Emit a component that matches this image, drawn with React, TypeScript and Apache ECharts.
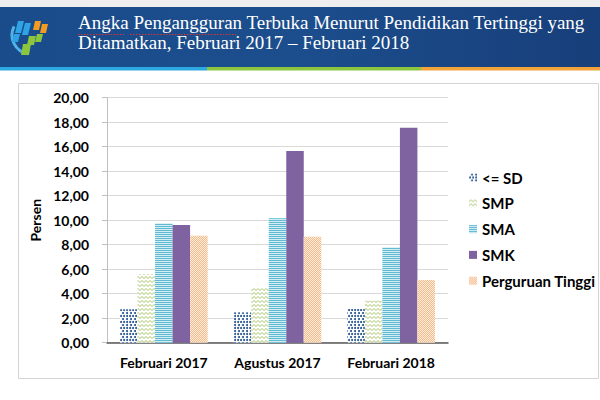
import React, { useEffect, useRef } from "react";
import * as echarts from "echarts";

const categories = ["Februari 2017", "Agustus 2017", "Februari 2018"];
const seriesNames = ["<= SD", "SMP", "SMA", "SMK", "Perguruan Tinggi"];
const sdValues = [2.73, 2.48, 2.75];
const smpValues = [5.61, 4.44, 3.43];
const smaValues = [9.75, 10.15, 7.79];
const smkValues = [9.61, 15.65, 17.55];
const ptValues = [8.73, 8.65, 5.12];
const titleLines = [
  "Angka Pengangguran Terbuka Menurut Pendidikan Tertinggi yang",
  "Ditamatkan, Februari 2017 \u2013 Februari 2018",
];

const FONT = "Lato, 'Open Sans', sans-serif";

export default function App() {
  const ref = useRef<HTMLDivElement>(null);
  useEffect(() => {
    if (!ref.current) return;
    const chart = echarts.init(ref.current, null, { renderer: "svg" });
    const values = [sdValues, smpValues, smaValues, smkValues, ptValues];
    const styles: any[] = [
      {
        color: "#ffffff",
        decal: {
          symbol: "circle",
          symbolSize: 1,
          color: "#1f4e8c",
          dashArrayX: [[2, 1], [0, 1.5, 2, 0]],
          dashArrayY: [2, 0.5],
        },
      },
      {
        color: "#ffffff",
        decal: {
          symbol: "path://M0,2 L2,0 L4,2 L4,3 L2,1 L0,3Z",
          symbolSize: 1,
          color: "#a9c46a",
          dashArrayX: [4, 0],
          dashArrayY: [3, 0.5],
        },
      },
      {
        color: "#d3edf4",
        decal: {
          symbol: "rect",
          symbolSize: 1,
          color: "#62bad2",
          dashArrayX: [1, 0],
          dashArrayY: [1, 1],
        },
      },
      { color: "#7f63a1" },
      {
        color: "#fdeede",
        decal: {
          symbol: "rect",
          symbolSize: 1,
          color: "#f6b98a",
          dashArrayX: [[1, 1], [0, 1, 1, 0]],
          dashArrayY: [1, 0],
        },
      },
    ];
    const series = seriesNames.map((name, i) => ({
      name,
      type: "bar",
      data: values[i],
      barGap: "0%",
      barCategoryGap: "23%",
      itemStyle: styles[i],
      emphasis: { disabled: true },
    }));

    chart.setOption({
      animation: false,
      backgroundColor: "#ffffff",
      graphic: [
        { type: "rect", z: -10, shape: { x: 0, y: 0, width: 600, height: 8 }, style: { fill: "#eeeeee" } },
        {
          type: "rect",
          z: -10,
          shape: { x: 0, y: 7, width: 600, height: 61 },
          style: {
            fill: new echarts.graphic.LinearGradient(0, 0, 1, 0, [
              { offset: 0, color: "#1a4b8b" },
              { offset: 0.5, color: "#1c4d8c" },
              { offset: 1, color: "#173f7a" },
            ]),
          },
        },
        { type: "rect", z: -9, shape: { x: 0, y: 67, width: 207, height: 3.5 }, style: { fill: "#2ea8e0" } },
        { type: "rect", z: -9, shape: { x: 207, y: 67, width: 214, height: 3.5 }, style: { fill: "#8cc63f" } },
        { type: "rect", z: -9, shape: { x: 421, y: 67, width: 179, height: 3.5 }, style: { fill: "#f2a33a" } },
        // logo
        {
          type: "arc",
          z: -8,
          shape: { cx: 31, cy: 35, r: 19, startAngle: Math.PI * 0.55, endAngle: Math.PI * 1.15 },
          style: { stroke: "#4fb3e8", lineWidth: 3, fill: "none" },
        },
        { type: "polygon", z: -8, shape: { points: [[18, 21], [24, 21], [21, 33], [15, 33]] }, style: { fill: "#2fa3e6" } },
        { type: "polygon", z: -8, shape: { points: [[25, 23], [31, 23], [28, 35], [22, 35]] }, style: { fill: "#2fa3e6" } },
        { type: "polygon", z: -8, shape: { points: [[14, 34], [20, 34], [18, 42], [12, 42]] }, style: { fill: "#2fa3e6" } },
        { type: "polygon", z: -8, shape: { points: [[35, 21], [41, 21], [39, 30], [33, 30]] }, style: { fill: "#f39c1f" } },
        { type: "polygon", z: -8, shape: { points: [[42, 24], [48, 24], [46, 33], [40, 33]] }, style: { fill: "#f39c1f" } },
        { type: "polygon", z: -8, shape: { points: [[29, 36], [36, 36], [34, 45], [27, 45]] }, style: { fill: "#8cc63f" } },
        { type: "polygon", z: -8, shape: { points: [[37, 34], [43, 34], [41, 42], [35, 42]] }, style: { fill: "#8cc63f" } },
        { type: "polygon", z: -8, shape: { points: [[23, 44], [31, 44], [29, 55], [21, 55]] }, style: { fill: "#8cc63f" } },
        {
          type: "text",
          z: -7,
          x: 78,
          y: 32,
          style: {
            text: titleLines[0],
            fill: "#ffffff",
            font: "19px 'Liberation Serif', serif",
            textVerticalAlign: "bottom",
          },
        },
        {
          type: "text",
          z: -7,
          x: 78,
          y: 52,
          style: {
            text: titleLines[1],
            fill: "#ffffff",
            font: "19px 'Liberation Serif', serif",
            textVerticalAlign: "bottom",
          },
        },
        {
          type: "line",
          z: -6,
          shape: { x1: 78, y1: 34.5, x2: 124, y2: 34.5 },
          style: { stroke: "#e03030", lineWidth: 1, lineDash: [1.5, 1.5] },
        },
        {
          type: "line",
          z: -6,
          shape: { x1: 130, y1: 34.5, x2: 236, y2: 34.5 },
          style: { stroke: "#e03030", lineWidth: 1, lineDash: [1.5, 1.5] },
        },
        {
          type: "rect",
          z: -10,
          shape: { x: 18.5, y: 83.5, width: 580, height: 295 },
          style: { fill: "#ffffff", stroke: "#d4d4d4", lineWidth: 1 },
        },
      ],
      grid: { left: 107, right: 152, top: 97.7, bottom: 57.3, containLabel: false },
      legend: {
        orient: "vertical",
        left: 464,
        top: 165,
        itemWidth: 8,
        itemHeight: 8,
        itemGap: 10.8,
        icon: "rect",
        textStyle: { fontFamily: FONT, fontWeight: "bold", fontSize: 15, color: "#000000" },
        data: seriesNames,
      },
      xAxis: {
        type: "category",
        data: categories,
        axisLine: { lineStyle: { color: "#595959", width: 1.5 } },
        axisTick: { show: false },
        axisLabel: {
          interval: 0,
          hideOverlap: false,
          fontFamily: FONT,
          fontWeight: "bold",
          fontSize: 14,
          color: "#000000",
          margin: 13,
        },
      },
      yAxis: {
        type: "value",
        min: 0,
        max: 20,
        interval: 2,
        name: "Persen",
        nameLocation: "middle",
        nameRotate: 90,
        nameGap: 52,
        nameTextStyle: { fontFamily: FONT, fontWeight: "bold", fontSize: 14, color: "#000000" },
        axisLine: { show: true, lineStyle: { color: "#bfbfbf" } },
        axisTick: { show: true, length: 5, lineStyle: { color: "#bfbfbf" } },
        splitLine: { lineStyle: { color: "#d9d9d9" } },
        axisLabel: {
          fontFamily: FONT,
          fontWeight: "bold",
          fontSize: 14,
          color: "#000000",
          margin: 18,
          formatter: (v: number) => v.toFixed(2).replace(".", ","),
        },
      },
      series,
    });
    return () => chart.dispose();
  }, []);
  return <div ref={ref} style={{ width: 600, height: 400, position: "absolute", left: 0, top: 0 }} />;
}
